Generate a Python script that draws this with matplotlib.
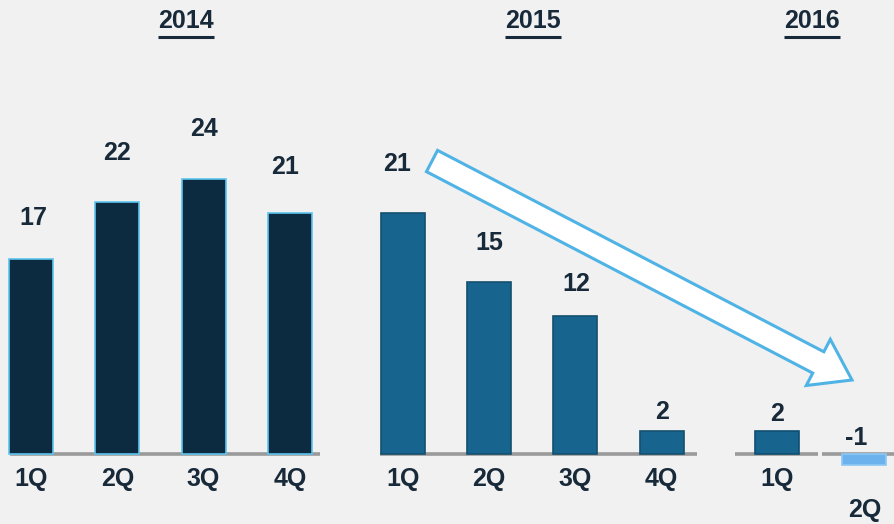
import matplotlib
matplotlib.use("Agg")
import matplotlib.pyplot as plt
from matplotlib.patches import FancyArrow

# ---- data ----
years = ["2014", "2015", "2016"]
quarters_2014 = ["1Q", "2Q", "3Q", "4Q"]
values_2014 = [17, 22, 24, 21]
quarters_2015 = ["1Q", "2Q", "3Q", "4Q"]
values_2015 = [21, 15, 12, 2]
quarters_2016 = ["1Q", "2Q"]
values_2016 = [2, -1]

# ---- style / layout ----
W, H = 895, 524
BG = "#f1f1f1"
TXT = "#182a3a"
FONT = ["Liberation Sans", "DejaVu Sans"]
plt.rcParams["font.family"] = FONT
FS = 18

fig = plt.figure(figsize=(W / 100, H / 100), dpi=100, facecolor=BG)
ax = fig.add_axes([0, 0, 1, 1])
ax.set_facecolor(BG)
ppu = 11.46            # pixels per unit
base_px = 454          # baseline pixel row (from top)
ax.set_xlim(0, W)
ax.set_ylim(-(H - base_px) / ppu, base_px / ppu)
ax.axis("off")

bw = 44
groups = [
    (quarters_2014, values_2014, 31, 86.3, ["#0c2a40"] * 4, "#5cc4ee"),
    (quarters_2015, values_2015, 403, 86.2, ["#17658f"] * 4, "#14506f"),
    (quarters_2016, values_2016, 777.5, 87, ["#17658f", "#6cb3ee"], None),
]
label_offsets = [[41, 49, 50, 46], [49, 39, 32, 19], [17, 16]]
label_dx = [[2, 0, 0, -5], [-6, 0, 1, 0], [0, -8]]

for gi, (qs, vals, x0, step, cols, edge) in enumerate(groups):
    xs = [x0 + i * step for i in range(len(qs))]
    for i, (x, v, c) in enumerate(zip(xs, vals, cols)):
        ec = edge if edge else ("#0f4f72" if v >= 0 else "#8cc8f5")
        ax.bar(x, v, width=bw, color=c, edgecolor=ec, linewidth=1.2, zorder=3)
        anchor_y = v if v >= 0 else 0
        ax.annotate(str(v), (x, anchor_y), xytext=(label_dx[gi][i], label_offsets[gi][i]),
                    textcoords="offset pixels", ha="center", va="center",
                    fontsize=FS, fontweight="bold", color=TXT)
        # category label
        if v >= 0:
            ax.annotate(qs[i], (x, 0), xytext=(0, -25), textcoords="offset pixels",
                        ha="center", va="center", fontsize=FS, fontweight="bold", color=TXT)
        else:
            ax.annotate(qs[i], (x, 0), xytext=(0, -56), textcoords="offset pixels",
                        ha="center", va="center", fontsize=FS, fontweight="bold", color=TXT)

# baselines
for (a, b) in [(10, 320), (380, 697), (735, 818), (822, 895)]:
    ax.plot([a, b], [0, 0], color="#9a9a9a", lw=2.6, zorder=2, solid_capstyle="butt")

# overlay in pixel coordinates for titles and arrow
ov = fig.add_axes([0, 0, 1, 1])
ov.set_xlim(0, W)
ov.set_ylim(H, 0)
ov.axis("off")
ov.patch.set_alpha(0)

title_x = [186, 533, 812]
titles = []
for yr, tx in zip(years, title_x):
    t = ov.text(tx, 21, yr, ha="center", va="center", fontsize=FS,
                fontweight="bold", color=TXT)
    titles.append(t)
fig.canvas.draw()
r = fig.canvas.get_renderer()
for t in titles:
    bb = t.get_window_extent(r)
    ov.plot([bb.x0, bb.x1], [37, 37], color=TXT, lw=2.2, solid_capstyle="butt")

# decline arrow
x_t, y_t = 432, 161
x_h, y_h = 852, 380
arr = FancyArrow(x_t, y_t, x_h - x_t, y_h - y_t, width=24, head_width=52,
                 head_length=38, length_includes_head=True,
                 facecolor="white", edgecolor="#4fb3e6", linewidth=2.2, zorder=5)
ov.add_patch(arr)

fig.savefig("out.png", dpi=100, facecolor=BG)
